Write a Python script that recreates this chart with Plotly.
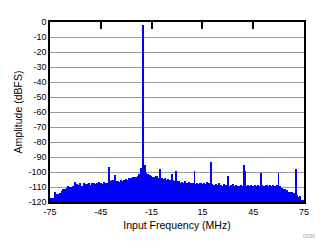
import plotly.graph_objects as go

# Noise-floor bins, 1 MHz apart, from -75 MHz to 75 MHz (dBFS)
freq_start = -75
noise_db = [
    -117.5, -117.5, -117.0, -113.0, -114.5, -114.5, -114.0, -112.5, -111.5, -111.0,   # -75..-66
    -110.5, -109.5, -110.0, -110.0, -109.0, -106.5, -108.0, -108.5, -107.5, -109.0,   # -65..-56
    -107.0, -108.0, -108.0, -107.0, -108.5, -107.5, -107.0, -108.0, -107.5, -106.5,   # -55..-46
    -107.0, -108.0, -106.5, -107.5, -107.0, -107.0, -106.0, -105.5, -106.5, -107.0,   # -45..-36
    -106.0, -106.5, -105.5, -106.0, -105.0, -104.5, -105.0, -104.0, -104.0, -103.5,   # -35..-26
    -103.0, -103.5, -102.5, -101.5, -97.0, -92.0, -95.0, -100.5, -101.0, -102.0,      # -25..-16
    -102.5, -103.0, -103.5, -102.5, -104.0, -103.5, -104.0, -104.5, -104.0, -105.0,   # -15..-6
    -104.5, -105.5, -105.0, -105.5, -106.0, -106.5, -106.0, -107.0, -106.5, -107.5,   # -5..4
    -106.0, -107.0, -106.5, -107.5, -107.0, -107.5, -108.0, -107.5, -108.0, -107.0,   # 5..14
    -108.0, -107.5, -108.0, -106.5, -107.5, -108.0, -108.0, -108.5, -108.0, -108.5,   # 15..24
    -107.5, -108.5, -109.0, -108.0, -108.5, -108.5, -109.0, -108.5, -108.0, -109.0,   # 25..34
    -108.5, -109.0, -109.0, -108.5, -109.0, -108.5, -109.0, -108.5, -109.5, -108.5,   # 35..44
    -109.0, -108.5, -109.5, -108.5, -109.0, -108.5, -109.0, -109.5, -108.5, -109.0,   # 45..54
    -108.5, -109.0, -108.5, -109.0, -108.5, -109.0, -109.5, -110.5, -111.0, -111.5,   # 55..64
    -112.0, -113.0, -113.0, -113.5, -114.0, -115.0, -115.5, -116.5, -116.0, -118.5,   # 65..74
    -118.5,                                                                           # 75
]
noise_freq = [freq_start + i for i in range(len(noise_db))]

# Fundamental and spurs
spur_freq = [-20.0, -40.0, -36.8, -9.8, -2.9, -0.4, 10.3, 20.1, 30.0, 39.8, 40.4, 49.6, 59.9, 70.5]
spur_db = [-2.0, -96.5, -102.0, -98.0, -101.5, -99.3, -99.3, -93.3, -102.5, -95.3, -99.0, -100.5, -100.5, -98.0]

x_ticks = [-75, -45, -15, 15, 45, 75]
y_ticks = list(range(-120, 1, 10))
floor_db = -120

blue = "#0000FF"
fig = go.Figure()
fig.add_trace(go.Bar(
    x=noise_freq, y=[v - floor_db for v in noise_db], base=floor_db,
    width=1.0, marker=dict(color=blue, line=dict(width=0)), showlegend=False,
))
fig.add_trace(go.Bar(
    x=spur_freq, y=[v - floor_db for v in spur_db], base=floor_db,
    width=0.5, marker=dict(color=blue, line=dict(width=0)), showlegend=False,
))
# invisible trace for top axis ticks
fig.add_trace(go.Scatter(x=[-75, 75], y=[floor_db, floor_db], xaxis="x2",
                         mode="lines", line=dict(width=0), showlegend=False, hoverinfo="skip"))

font_family = "Liberation Sans, Arial, sans-serif"
fig.update_layout(
    width=333, height=252,
    margin=dict(l=50, r=29, t=22, b=50),
    paper_bgcolor="white", plot_bgcolor="white",
    barmode="overlay", bargap=0,
    font=dict(family=font_family, size=9, color="black"),
    xaxis=dict(
        range=[-75, 75], tickvals=x_ticks, ticktext=[str(t) for t in x_ticks],
        showgrid=False, zeroline=False, showline=True, linecolor="black", linewidth=1.5,
        mirror=True, ticks="", tickfont=dict(size=9),
        title=dict(text="Input Frequency (MHz)", font=dict(size=10.5), standoff=6),
    ),
    xaxis2=dict(
        range=[-75, 75], overlaying="x", side="top", tickvals=x_ticks,
        showticklabels=False, ticks="inside", ticklen=7, tickwidth=1.5, tickcolor="black",
        showgrid=False, zeroline=False, showline=False,
    ),
    yaxis=dict(
        range=[-120, 0], tickvals=y_ticks, ticktext=[str(t) for t in y_ticks],
        showgrid=True, gridcolor="#999999", gridwidth=1, zeroline=False,
        showline=True, linecolor="black", linewidth=1.5, mirror=True, ticks="",
        tickfont=dict(size=9),
        title=dict(text="Amplitude (dBFS)", font=dict(size=10.5), standoff=4),
    ),
)
fig.add_annotation(text="D050", x=1.02, y=-0.19, xref="paper", yref="paper",
                   xanchor="center", yanchor="middle", showarrow=False,
                   font=dict(size=5, color="#999999"))
fig.write_html("out.html")
